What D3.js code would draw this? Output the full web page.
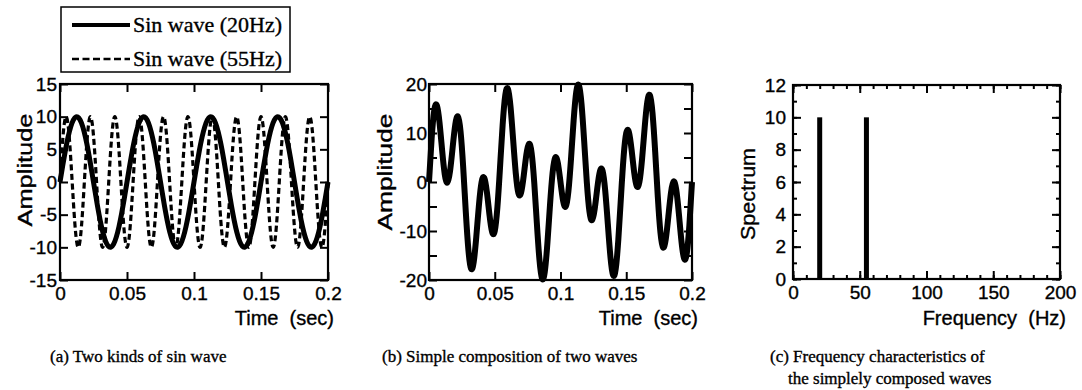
<!DOCTYPE html>
<html lang="en">
<head>
<meta charset="UTF-8">
<title>Sin waves and their composition</title>
<script src="https://d3js.org/d3.v7.min.js"></script>
<style>
  body { margin: 0; background: #fff; }
  text { stroke: #000; stroke-width: 0.35px; }
</style>
</head>
<body>
<div id="chart"></div>
<script>
// ---- data ----
// sample times (sec)
const time = [
  0, 0.002, 0.004, 0.006, 0.008, 0.01, 0.012, 0.014, 0.016, 0.018,
  0.02, 0.022, 0.024, 0.026, 0.028, 0.03, 0.032, 0.034, 0.036, 0.038,
  0.04, 0.042, 0.044, 0.046, 0.048, 0.05, 0.052, 0.054, 0.056, 0.058,
  0.06, 0.062, 0.064, 0.066, 0.068, 0.07, 0.072, 0.074, 0.076, 0.078,
  0.08, 0.082, 0.084, 0.086, 0.088, 0.09, 0.092, 0.094, 0.096, 0.098,
  0.1, 0.102, 0.104, 0.106, 0.108, 0.11, 0.112, 0.114, 0.116, 0.118,
  0.12, 0.122, 0.124, 0.126, 0.128, 0.13, 0.132, 0.134, 0.136, 0.138,
  0.14, 0.142, 0.144, 0.146, 0.148, 0.15, 0.152, 0.154, 0.156, 0.158,
  0.16, 0.162, 0.164, 0.166, 0.168, 0.17, 0.172, 0.174, 0.176, 0.178,
  0.18, 0.182, 0.184, 0.186, 0.188, 0.19, 0.192, 0.194, 0.196, 0.198,
  0.2
];

// (a) sin wave 20Hz
const wave20 = [
  0, 2.49, 4.82, 6.85, 8.44, 9.51, 9.98, 9.82, 9.05, 7.71,
  5.88, 3.68, 1.25, -1.25, -3.68, -5.88, -7.71, -9.05, -9.82, -9.98,
  -9.51, -8.44, -6.85, -4.82, -2.49, 0, 2.49, 4.82, 6.85, 8.44,
  9.51, 9.98, 9.82, 9.05, 7.71, 5.88, 3.68, 1.25, -1.25, -3.68,
  -5.88, -7.71, -9.05, -9.82, -9.98, -9.51, -8.44, -6.85, -4.82, -2.49,
  0, 2.49, 4.82, 6.85, 8.44, 9.51, 9.98, 9.82, 9.05, 7.71,
  5.88, 3.68, 1.25, -1.25, -3.68, -5.88, -7.71, -9.05, -9.82, -9.98,
  -9.51, -8.44, -6.85, -4.82, -2.49, 0, 2.49, 4.82, 6.85, 8.44,
  9.51, 9.98, 9.82, 9.05, 7.71, 5.88, 3.68, 1.25, -1.25, -3.68,
  -5.88, -7.71, -9.05, -9.82, -9.98, -9.51, -8.44, -6.85, -4.82, -2.49,
  0
];

// (a) sin wave 55Hz
const wave55 = [
  0, 6.37, 9.82, 8.76, 3.68, -3.09, -8.44, -9.92, -6.85, -0.63,
  5.88, 9.69, 9.05, 4.26, -2.49, -8.09, -9.98, -7.29, -1.25, 5.36,
  9.51, 9.30, 4.82, -1.87, -7.71, -10, -7.71, -1.87, 4.82, 9.30,
  9.51, 5.36, -1.25, -7.29, -9.98, -8.09, -2.49, 4.26, 9.05, 9.69,
  5.88, -0.63, -6.85, -9.92, -8.44, -3.09, 3.68, 8.76, 9.82, 6.37,
  0, -6.37, -9.82, -8.76, -3.68, 3.09, 8.44, 9.92, 6.85, 0.63,
  -5.88, -9.69, -9.05, -4.26, 2.49, 8.09, 9.98, 7.29, 1.25, -5.36,
  -9.51, -9.30, -4.82, 1.87, 7.71, 10, 7.71, 1.87, -4.82, -9.30,
  -9.51, -5.36, 1.25, 7.29, 9.98, 8.09, 2.49, -4.26, -9.05, -9.69,
  -5.88, 0.63, 6.85, 9.92, 8.44, 3.09, -3.68, -8.76, -9.82, -6.37,
  0
];

// (b) composed wave
const composite = [
  0, 8.86, 14.64, 15.61, 12.12, 6.42, 1.54, -0.10, 2.20, 7.08,
  11.76, 13.37, 10.30, 3.01, -6.17, -13.97, -17.69, -16.34, -11.08, -4.62,
  0, 0.85, -2.03, -6.69, -10.19, -10, -5.22, 2.95, 11.66, 17.74,
  19.02, 15.34, 8.57, 1.76, -2.28, -2.21, 1.19, 5.51, 7.80, 6.00,
  0, -8.33, -15.89, -19.74, -18.42, -12.60, -4.76, 1.92, 5.01, 3.89,
  0, -3.89, -5.01, -1.92, 4.76, 12.60, 18.42, 19.74, 15.89, 8.33,
  0, -6.00, -7.80, -5.51, -1.19, 2.21, 2.28, -1.76, -8.57, -15.34,
  -19.02, -17.74, -11.66, -2.95, 5.22, 10, 10.19, 6.69, 2.03, -0.85,
  0, 4.62, 11.08, 16.34, 17.69, 13.97, 6.17, -3.01, -10.30, -13.37,
  -11.76, -7.08, -2.20, 0.10, -1.54, -6.42, -12.12, -15.61, -14.64, -8.86,
  0
];

// (c) spectrum
const freqs = [20, 55];
const spectrum = [10, 10];

// tick values
const timeTicks = [0, 0.05, 0.1, 0.15, 0.2];
const ampTicksA = [-15, -10, -5, 0, 5, 10, 15];
const ampTicksB = [-20, -15, -10, -5, 0, 5, 10, 15, 20];
const freqTicks = [0, 50, 100, 150, 200];
const specTicks = [0, 2, 4, 6, 8, 10, 12];

const legendLabels = ["Sin wave (20Hz)", "Sin wave (55Hz)"];
const captions = [
  ["(a) Two kinds of sin wave"],
  ["(b) Simple composition of two waves"],
  ["(c) Frequency characteristics of", "the simplely composed waves"]
];

// ---- drawing ----
const sans = "'Liberation Sans', Arial, Helvetica, sans-serif";
const serif = "'Liberation Serif', 'Times New Roman', Times, serif";

const svg = d3.select("#chart").append("svg")
  .attr("width", 1082)
  .attr("height", 390)
  .style("background", "#fff");

// one framed plot with inward ticks on all four sides
function makePanel(cfg) {
  const x = d3.scaleLinear().domain(cfg.xDomain).range([cfg.left, cfg.right]);
  const y = d3.scaleLinear().domain(cfg.yDomain).range([cfg.bottom, cfg.top]);
  const g = svg.append("g");

  function style(sel) {
    sel.select(".domain").remove();
    sel.selectAll("line").attr("stroke", "#000").attr("stroke-width", 2);
    sel.attr("font-family", sans).attr("font-size", 19);
  }

  const sets = [{ vals: cfg.xTicks, len: 8, fmt: cfg.xFmt, yvals: cfg.yTicks, yfmt: cfg.yFmt }];
  if (cfg.xMinor) sets.push({ vals: cfg.xMinor, len: 4, fmt: () => "", yvals: cfg.yMinor, yfmt: () => "" });

  sets.forEach(s => {
    g.append("g").attr("transform", `translate(0,${cfg.bottom})`)
      .call(d3.axisBottom(x).tickValues(s.vals).tickSize(-s.len).tickPadding(7).tickFormat(s.fmt))
      .call(style);
    g.append("g").attr("transform", `translate(0,${cfg.top})`)
      .call(d3.axisTop(x).tickValues(s.vals).tickSize(-s.len).tickFormat(""))
      .call(style);
    g.append("g").attr("transform", `translate(${cfg.left},0)`)
      .call(d3.axisLeft(y).tickValues(s.yvals).tickSize(-s.len).tickPadding(cfg.yPad).tickFormat(s.yfmt))
      .call(style);
    g.append("g").attr("transform", `translate(${cfg.right},0)`)
      .call(d3.axisRight(y).tickValues(s.yvals).tickSize(-s.len).tickFormat(""))
      .call(style);
  });

  // frame
  g.append("rect")
    .attr("x", cfg.left).attr("y", cfg.top)
    .attr("width", cfg.right - cfg.left).attr("height", cfg.bottom - cfg.top)
    .attr("fill", "none").attr("stroke", "#000").attr("stroke-width", 2.2);

  // axis titles
  g.append("text")
    .attr("x", cfg.right + 6).attr("y", 325)
    .attr("text-anchor", "end")
    .attr("font-family", sans).attr("font-size", 20)
    .style("white-space", "pre")
    .text(cfg.xTitle);

  g.append("text")
    .attr("transform", `translate(${cfg.yTitleX},${cfg.yTitleY}) rotate(-90)`)
    .attr("text-anchor", "middle")
    .attr("dy", "0.35em")
    .attr("font-family", sans).attr("font-size", 21)
    .attr("textLength", cfg.yTitleLen).attr("lengthAdjust", "spacingAndGlyphs")
    .text(cfg.yTitle);

  return { g, x, y };
}

// (a)
const pa = makePanel({
  left: 60, right: 328, top: 84, bottom: 280,
  xDomain: [0, 0.2], yDomain: [-15, 15],
  xTicks: timeTicks, xFmt: d => String(d),
  yTicks: ampTicksA, yFmt: d => String(d), yPad: 3,
  xTitle: "Time  (sec)", yTitle: "Amplitude",
  yTitleX: 25, yTitleY: 170, yTitleLen: 113
});

const lineA = d3.line()
  .x((d, i) => pa.x(time[i]))
  .y(d => pa.y(d))
  .curve(d3.curveNatural);

pa.g.append("path").datum(wave55)
  .attr("d", lineA)
  .attr("fill", "none").attr("stroke", "#000")
  .attr("stroke-width", 3.2).attr("stroke-dasharray", "6,3.5");

pa.g.append("path").datum(wave20)
  .attr("d", lineA)
  .attr("fill", "none").attr("stroke", "#000")
  .attr("stroke-width", 5).attr("stroke-linejoin", "round");

// (b)
const pb = makePanel({
  left: 429, right: 692, top: 84, bottom: 280,
  xDomain: [0, 0.2], yDomain: [-20, 20],
  xTicks: timeTicks, xFmt: d => String(d),
  yTicks: ampTicksB, yFmt: d => (d % 10 === 0 ? String(d) : ""), yPad: 2,
  xTitle: "Time  (sec)", yTitle: "Amplitude",
  yTitleX: 385, yTitleY: 172, yTitleLen: 117
});

const lineB = d3.line()
  .x((d, i) => pb.x(time[i]))
  .y(d => pb.y(d))
  .curve(d3.curveNatural);

pb.g.append("path").datum(composite)
  .attr("d", lineB)
  .attr("fill", "none").attr("stroke", "#000")
  .attr("stroke-width", 6).attr("stroke-linejoin", "round");

// (c)
const pc = makePanel({
  left: 793, right: 1060, top: 85, bottom: 279,
  xDomain: [0, 200], yDomain: [0, 12],
  xTicks: freqTicks, xFmt: d => String(d),
  xMinor: d3.range(0, 201, 10), yMinor: d3.range(0, 13, 1),
  yTicks: specTicks, yFmt: d => String(d), yPad: 7,
  xTitle: "Frequency  (Hz)", yTitle: "Spectrum",
  yTitleX: 748, yTitleY: 194, yTitleLen: 92
});

pc.g.selectAll("rect.bar")
  .data(freqs)
  .enter()
  .append("rect")
    .attr("class", "bar")
    .attr("x", d => pc.x(d) - 2.5)
    .attr("width", 5)
    .attr("y", (d, i) => pc.y(spectrum[i]))
    .attr("height", (d, i) => pc.y(0) - pc.y(spectrum[i]))
    .attr("fill", "#000");

// legend
const legend = svg.append("g");
legend.append("rect")
  .attr("x", 61).attr("y", 7).attr("width", 229).attr("height", 65)
  .attr("fill", "#fff").attr("stroke", "#000").attr("stroke-width", 1.5);

legendLabels.forEach((label, i) => {
  const ly = 25 + i * 34;
  legend.append("line")
    .attr("x1", 72).attr("x2", 130).attr("y1", ly).attr("y2", ly)
    .attr("stroke", "#000")
    .attr("stroke-width", i === 0 ? 4 : 2.5)
    .attr("stroke-dasharray", i === 0 ? null : "7,3.5");
  legend.append("text")
    .attr("x", 133).attr("y", ly + 7)
    .attr("font-family", serif).attr("font-size", 22)
    .text(label);
});

// captions
const capX = [50, 382, 770];
captions.forEach((lines, i) => {
  lines.forEach((txt, j) => {
    svg.append("text")
      .attr("x", capX[i] + (j > 0 ? 18 : 0))
      .attr("y", 362 + j * 22)
      .attr("font-family", serif).attr("font-size", 17)
      .text(txt);
  });
});
</script>
</body>
</html>
